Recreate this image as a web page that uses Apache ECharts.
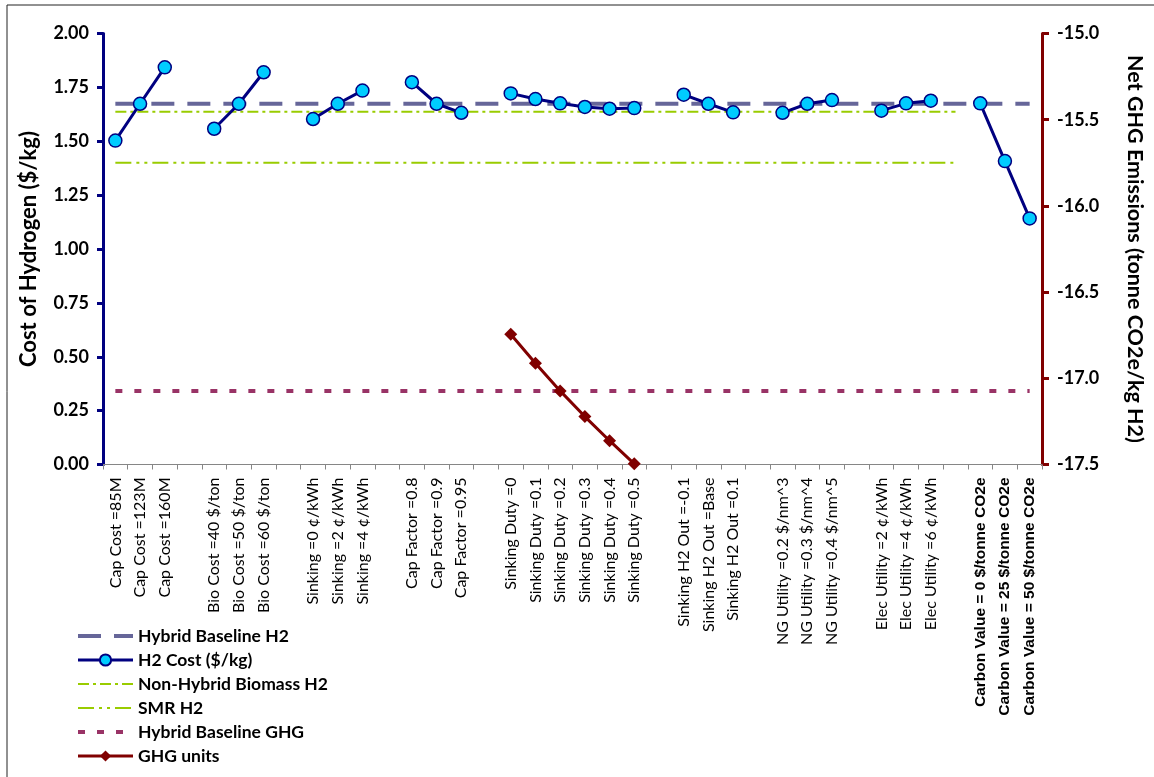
<!DOCTYPE html>
<html>
<head>
<meta charset="utf-8">
<script src="https://cdn.jsdelivr.net/npm/echarts@6/dist/echarts.min.js"></script>
<style>
html,body{margin:0;padding:0;background:#fff;}
#chart{width:1154px;height:777px;}
</style>
</head>
<body>
<div id="chart"></div>
<script>
// ---- Data ----
const capCostLabels = ['Cap Cost =85M', 'Cap Cost =123M', 'Cap Cost =160M'];
const capCostH2 = [1.503, 1.674, 1.843];

const bioCostLabels = ['Bio Cost =40 $/ton', 'Bio Cost =50 $/ton', 'Bio Cost =60 $/ton'];
const bioCostH2 = [1.558, 1.674, 1.820];

const sinkingLabels = ['Sinking =0 ¢/kWh', 'Sinking =2 ¢/kWh', 'Sinking =4 ¢/kWh'];
const sinkingH2 = [1.603, 1.674, 1.735];

const capFactorLabels = ['Cap Factor =0.8', 'Cap Factor =0.9', 'Cap Factor =0.95'];
const capFactorH2 = [1.774, 1.674, 1.632];

const sinkingDutyLabels = ['Sinking Duty =0', 'Sinking Duty =0.1', 'Sinking Duty =0.2', 'Sinking Duty =0.3', 'Sinking Duty =0.4', 'Sinking Duty =0.5'];
const sinkingDutyH2 = [1.722, 1.696, 1.676, 1.659, 1.651, 1.654];
const sinkingDutyGHG = [-16.744, -16.913, -17.073, -17.222, -17.362, -17.496];

const h2OutLabels = ['Sinking H2 Out =-0.1', 'Sinking H2 Out =Base', 'Sinking H2 Out =0.1'];
const h2OutH2 = [1.716, 1.674, 1.634];

const ngLabels = ['NG Utility =0.2 $/nm^3', 'NG Utility =0.3 $/nm^4', 'NG Utility =0.4 $/nm^5'];
const ngH2 = [1.632, 1.674, 1.691];

const elecLabels = ['Elec Utility =2 ¢/kWh', 'Elec Utility =4 ¢/kWh', 'Elec Utility =6 ¢/kWh'];
const elecH2 = [1.642, 1.676, 1.688];

const carbonLabels = ['Carbon Value = 0 $/tonne CO2e', 'Carbon Value = 25 $/tonne CO2e', 'Carbon Value = 50 $/tonne CO2e'];
const carbonH2 = [1.676, 1.408, 1.142];

// reference lines (constant values)
const hybridBaselineH2 = 1.674;
const nonHybridBiomassH2 = 1.637;
const smrH2 = 1.400;
const hybridBaselineGHG = -17.073;

const leftTicks = { min: 0, max: 2, interval: 0.25 };
const rightTicks = { min: -17.5, max: -15, interval: 0.5 };

// ---- Build categories / series (one empty category between groups) ----
const groups = [
  { labels: capCostLabels, h2: capCostH2 },
  { labels: bioCostLabels, h2: bioCostH2 },
  { labels: sinkingLabels, h2: sinkingH2 },
  { labels: capFactorLabels, h2: capFactorH2 },
  { labels: sinkingDutyLabels, h2: sinkingDutyH2, ghg: sinkingDutyGHG },
  { labels: h2OutLabels, h2: h2OutH2 },
  { labels: ngLabels, h2: ngH2 },
  { labels: elecLabels, h2: elecH2 },
  { labels: carbonLabels, h2: carbonH2 }
];
const categories = [];
const h2Cost = [];
const ghgUnits = [];
groups.forEach((g, gi) => {
  if (gi > 0) { categories.push(''); h2Cost.push(null); ghgUnits.push(null); }
  g.labels.forEach((l, i) => {
    categories.push(l);
    h2Cost.push(g.h2[i]);
    ghgUnits.push(g.ghg ? g.ghg[i] : null);
  });
});
const lastIdx = categories.length - 1;
const gapBeforeCarbon = lastIdx - carbonLabels.length;

const FONT = 'Lato';
const noSymbol = { opacity: 0 };

const chart = echarts.init(document.getElementById('chart'), null, { renderer: 'canvas' });
chart.setOption({
  animation: false,
  backgroundColor: '#ffffff',
  textStyle: { fontFamily: FONT },
  grid: { left: 103, right: 111, top: 33.5, bottom: 312.5 },
  graphic: [
    { type: 'rect', shape: { x: 7, y: 5, width: 1300, height: 900 }, style: { fill: 'none', stroke: '#222', lineWidth: 1 }, silent: true }
  ],
  legend: {
    orient: 'vertical',
    left: 71,
    top: 622,
    itemWidth: 55,
    itemHeight: 14,
    itemGap: 6,
    lineStyle: { width: 'inherit', type: 'inherit' },
    textStyle: { fontFamily: FONT, fontWeight: 'bold', fontSize: 17.5, color: '#000', lineHeight: 18 },
    data: [
      { name: 'Hybrid Baseline H2', itemStyle: noSymbol },
      'H2 Cost ($/kg)',
      { name: 'Non-Hybrid Biomass H2', itemStyle: noSymbol },
      { name: 'SMR H2', itemStyle: noSymbol },
      { name: 'Hybrid Baseline GHG', itemStyle: noSymbol },
      'GHG units'
    ]
  },
  xAxis: {
    type: 'category',
    data: categories,
    boundaryGap: true,
    axisLine: { onZero: false, lineStyle: { color: '#868686', width: 1 } },
    axisTick: { show: true, interval: 0, length: 5, lineStyle: { color: '#868686' } },
    axisLabel: {
      interval: 0,
      rotate: 90,
      margin: 13,
      fontFamily: FONT,
      fontSize: 16,
      color: '#000',
      formatter: function (v) {
        return v.indexOf('Carbon') === 0 ? '{c|' + v + '}' : v;
      },
      rich: {
        c: { fontFamily: 'Liberation Sans', fontWeight: 'bold', fontSize: 15.5, color: '#000' }
      }
    },
    splitLine: { show: false }
  },
  yAxis: [
    {
      type: 'value',
      min: leftTicks.min, max: leftTicks.max, interval: leftTicks.interval,
      position: 'left',
      name: 'Cost of Hydrogen ($/kg)',
      nameLocation: 'middle',
      nameRotate: 90,
      nameGap: 63,
      nameTextStyle: { fontFamily: FONT, fontWeight: 'bold', fontSize: 22, color: '#000' },
      axisLine: { show: true, lineStyle: { color: '#000080', width: 3 } },
      axisTick: { show: true, inside: false, length: 6, lineStyle: { color: '#000080', width: 3 } },
      axisLabel: { fontFamily: FONT, fontWeight: 'bold', fontSize: 18, color: '#000', margin: 14, formatter: v => v.toFixed(2) },
      splitLine: { show: false }
    },
    {
      type: 'value',
      min: rightTicks.min, max: rightTicks.max, interval: rightTicks.interval,
      position: 'right',
      name: 'Net GHG Emissions (tonne CO2e/kg H2)',
      nameLocation: 'middle',
      nameRotate: -90,
      nameGap: 82,
      nameTextStyle: { fontFamily: FONT, fontWeight: 'bold', fontSize: 21.5, color: '#000' },
      axisLine: { show: true, lineStyle: { color: '#800000', width: 3 } },
      axisTick: { show: true, inside: false, length: 7, lineStyle: { color: '#800000', width: 3 } },
      axisLabel: { fontFamily: FONT, fontWeight: 'bold', fontSize: 18, color: '#000', margin: 15, formatter: v => v.toFixed(1) },
      splitLine: { show: false }
    }
  ],
  series: [
    {
      name: 'Hybrid Baseline H2', type: 'line', yAxisIndex: 0, z: 2,
      data: [[0, hybridBaselineH2], [lastIdx, hybridBaselineH2]],
      symbol: 'none', silent: true,
      itemStyle: { color: '#666699' },
      lineStyle: { color: '#666699', width: 4, type: [23, 13] }
    },
    {
      name: 'H2 Cost ($/kg)', type: 'line', yAxisIndex: 0, z: 5,
      data: h2Cost,
      connectNulls: false,
      symbol: 'circle', symbolSize: 13, showSymbol: true,
      itemStyle: { color: '#00CCFF', borderColor: '#000080', borderWidth: 1.5 },
      lineStyle: { color: '#000080', width: 3 }
    },
    {
      name: 'Non-Hybrid Biomass H2', type: 'line', yAxisIndex: 0, z: 2,
      data: [[0, nonHybridBiomassH2], [gapBeforeCarbon, nonHybridBiomassH2]],
      symbol: 'none', silent: true,
      itemStyle: { color: '#99CC00' },
      lineStyle: { color: '#99CC00', width: 2, type: [11, 4, 3, 4] }
    },
    {
      name: 'SMR H2', type: 'line', yAxisIndex: 0, z: 2,
      data: [[0, smrH2], [gapBeforeCarbon, smrH2]],
      symbol: 'none', silent: true,
      itemStyle: { color: '#99CC00' },
      lineStyle: { color: '#99CC00', width: 2, type: [16, 5, 3, 5, 3, 5] }
    },
    {
      name: 'Hybrid Baseline GHG', type: 'line', yAxisIndex: 1, z: 2,
      data: [[0, hybridBaselineGHG], [lastIdx, hybridBaselineGHG]],
      symbol: 'none', silent: true,
      itemStyle: { color: '#993366' },
      lineStyle: { color: '#993366', width: 4, type: [7, 12] }
    },
    {
      name: 'GHG units', type: 'line', yAxisIndex: 1, z: 5,
      data: ghgUnits,
      connectNulls: false,
      symbol: 'diamond', symbolSize: 13, showSymbol: true,
      itemStyle: { color: '#800000' },
      lineStyle: { color: '#800000', width: 3 }
    }
  ]
});
</script>
</body>
</html>
